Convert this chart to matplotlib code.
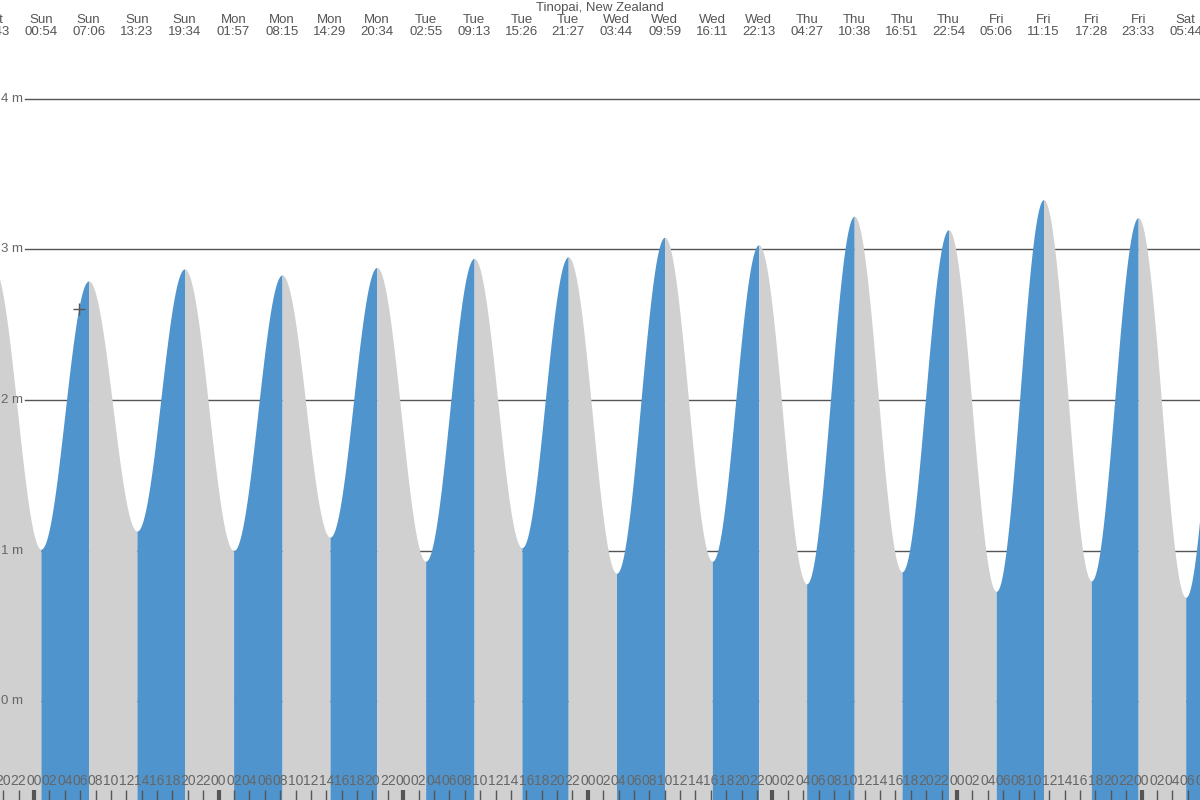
import numpy as np
import matplotlib
matplotlib.use("Agg")
import matplotlib.pyplot as plt

plt.rcParams['font.family'] = ['Liberation Sans', 'DejaVu Sans']

# tide extremes: day offset from Sunday 00:00, day name, time, height (m)
day_offset = [-1, -1, 0, 0, 0, 0, 1, 1, 1, 1, 2, 2, 2, 2, 3, 3, 3, 3,
              4, 4, 4, 4, 5, 5, 5, 5, 6, 6]
day_name = ["Sat", "Sat", "Sun", "Sun", "Sun", "Sun", "Mon", "Mon", "Mon", "Mon",
            "Tue", "Tue", "Tue", "Tue", "Wed", "Wed", "Wed", "Wed",
            "Thu", "Thu", "Thu", "Thu", "Fri", "Fri", "Fri", "Fri", "Sat", "Sat"]
clock = ["12:30", "18:43", "00:54", "07:06", "13:23", "19:34", "01:57", "08:15",
         "14:29", "20:34", "02:55", "09:13", "15:26", "21:27", "03:44", "09:59",
         "16:11", "22:13", "04:27", "10:38", "16:51", "22:54", "05:06", "11:15",
         "17:28", "23:33", "05:44", "11:57"]
height = [1.02, 2.88, 1.01, 2.79, 1.13, 2.87, 1.00, 2.83, 1.09, 2.88, 0.93, 2.94,
          1.02, 2.95, 0.85, 3.08, 0.93, 3.03, 0.78, 3.22, 0.86, 3.13, 0.73, 3.33,
          0.80, 3.21, 0.69, 3.32]

now_hour = 5.8
title = "Tinopai, New Zealand"
hour_labels = ["00", "02", "04", "06", "08", "10", "12", "14", "16", "18", "20", "22"]
y_ticks = [0, 1, 2, 3, 4]

BLUE = "#4f94cd"
GREY = "#d0d0d0"
TXT = "#555555"

t_ext = np.array([d * 24 + int(c[:2]) + int(c[3:]) / 60 for d, c in zip(day_offset, clock)])
h_ext = np.array(height)

px_per_h = 184.6 / 24
x0, x1 = -34 / px_per_h, (1200 - 34) / px_per_h
ymin, ymax = -0.655, 4.655
px_m = 150.75

fig = plt.figure(figsize=(12, 8), dpi=100)
ax = fig.add_axes([0, 0, 1, 1])
ax.set_xlim(x0, x1)
ax.set_ylim(ymin, ymax)
ax.axis("off")

for v in y_ticks:
    ax.axhline(v, xmin=25 / 1200, xmax=1, color="#555555", lw=1, zorder=1)
    ax.text(x0 + 23 / px_per_h, v, f"{v} m", ha="right", va="center",
            fontsize=9.5, color="#666666", zorder=5)

# curve between extremes (cosine shape), blue while rising, grey while falling
def level(t):
    i = np.searchsorted(t_ext, t) - 1
    i = np.clip(i, 0, len(t_ext) - 2)
    ta, tb = t_ext[i], t_ext[i + 1]
    ha, hb = h_ext[i], h_ext[i + 1]
    s = (t - ta) / (tb - ta)
    return ha + (hb - ha) * (1 - np.cos(np.pi * s)) / 2

for i in range(len(t_ext) - 1):
    tt = np.linspace(t_ext[i], t_ext[i + 1], 120)
    hh = level(tt)
    col = BLUE if h_ext[i + 1] > h_ext[i] else GREY
    ax.fill_between(tt, ymin, hh, color=col, lw=0, zorder=2)

# extreme labels at top
for t, dn, c in zip(t_ext, day_name, clock):
    ax.text(t, ymax - 20 / px_m, dn, ha="center", va="center", fontsize=9.5, color=TXT,
            zorder=5, clip_on=True)
    ax.text(t, ymax - 32 / px_m, c, ha="center", va="center", fontsize=9.5, color=TXT,
            zorder=5, clip_on=True)
ax.text((x0 + x1) / 2, ymax - 8 / px_m, title, ha="center", va="center",
        fontsize=9.5, color=TXT, zorder=5)

# hour labels and ticks at bottom
for hr in range(-24, 168, 2):
    if hr < x0 - 1 or hr > x1 + 1:
        continue
    ax.text(hr, ymin + 19 / px_m, hour_labels[(hr % 24) // 2], ha="center", va="center",
            fontsize=10, color="#666666", zorder=5, clip_on=True)
    lw = 3 if hr % 24 == 0 else 1
    ax.plot([hr, hr], [ymin, ymin + 10 / px_m], color="#555555", lw=lw, zorder=5,
            solid_capstyle="butt")

# current time marker
ax.plot([now_hour], [level(np.array([now_hour]))[0]], marker="+", ms=9, mew=1,
        color="#555555", zorder=6)

fig.savefig("out.png", dpi=100)
